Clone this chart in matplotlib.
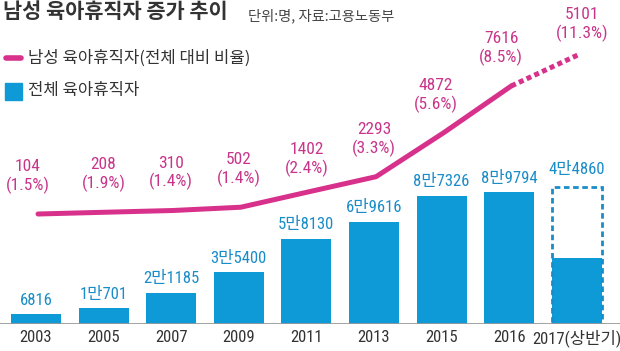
import numpy as np
import matplotlib
matplotlib.use("Agg")
import matplotlib.pyplot as plt
from matplotlib import font_manager
from matplotlib.patches import Rectangle

# data
years = ["2003", "2005", "2007", "2009", "2011", "2013", "2015", "2016", "2017(상반기)"]
total_leave = [6816, 10701, 21185, 35400, 58130, 69616, 87326, 89794, 44860]
total_labels = ["6816", "1만701", "2만1185", "3만5400", "5만8130", "6만9616", "8만7326", "8만9794", "4만4860"]
male_leave = [104, 208, 310, 502, 1402, 2293, 4872, 7616, 5101]
male_ratio = ["1.5%", "1.9%", "1.4%", "1.4%", "2.4%", "3.3%", "5.6%", "8.5%", "11.3%"]
male_2017_plot = 9500      # where the dotted line ends (annualised estimate)
total_2017_box = 93000     # dashed box height for 2017

BLUE = "#0e9ad6"
BLUE_TXT = "#1a8cc8"
PINK = "#d8318c"
PINK_TXT = "#c8358a"
DARK = "#333333"
KR = "Noto Sans CJK KR"

# try to find a narrow latin font for digits
names = {f.name for f in font_manager.fontManager.ttflist}
narrow = None
for cand in ["Liberation Sans Narrow", "DejaVu Sans Condensed", "Roboto Condensed",
             "Open Sans Condensed", "Noto Sans Condensed"]:
    if cand in names:
        narrow = cand
        break
if narrow:
    NUM = [narrow, KR]
    s_blue, s_pink, s_year = 12, 12.5, 12
else:
    NUM = [KR]
    s_blue, s_pink, s_year = 10, 10.5, 10.5

W, H = 620, 351
fig = plt.figure(figsize=(W / 100, H / 100), dpi=100)
base_px = 27
ax = fig.add_axes([0, base_px / H, 1, (H - base_px) / H])
ax.set_xlim(-36 / 67.6, (W - 36) / 67.6)
px_per_unit = 1.47 / 1000
ax.set_ylim(0, (H - base_px) / px_per_unit)
ax.axis("off")

x = np.arange(len(years))
bw = 50 / 67.6
ax.bar(x, total_leave, width=bw, color=BLUE, zorder=2)
ax.add_patch(Rectangle((x[-1] - bw / 2, 0), bw, total_2017_box, fill=False,
                       edgecolor=BLUE_TXT, lw=2, ls=(0, (2, 1.3)), zorder=3))
ax.axhline(0, color="#9a9a9a", lw=2, zorder=4)

tops = total_leave[:-1] + [total_2017_box]
for i in range(len(years)):
    ax.annotate(total_labels[i], (x[i], tops[i]), xytext=(0, 10 if i < 8 else 13),
                textcoords="offset points", ha="center", va="center",
                fontsize=s_blue, color=BLUE_TXT, family=NUM)
    ax.annotate(years[i], (x[i], 0), xytext=(0, -10), textcoords="offset points",
                ha="center", va="center", fontsize=s_year, color=DARK, family=NUM)

# line on its own scale
ax2 = ax.twinx()
ax2.set_ylim(104 - 110 / 0.01704, 104 + (H - base_px - 110) / 0.01704)
ax2.axis("off")
ax2.plot(x[:8] + 0.03, male_leave[:8], color=PINK, lw=3.6, solid_capstyle="round", zorder=5)
ax2.plot([x[7] + 0.03, x[8] + 0.05], [male_leave[7], male_2017_plot], color=PINK, lw=3.6,
         ls=(0, (1.0, 0.7)), zorder=5)

line_y = male_leave[:8] + [male_2017_plot]
dx = [-8, 0, 0, 0, 0, 0, -6, -8, 5]
dy = [27, 27, 27, 27, 23, 27, 27, 27, 21]
for i in range(len(years)):
    ax2.annotate(f"{male_leave[i]}\n({male_ratio[i]})", (x[i], line_y[i]),
                 xytext=(dx[i] * 0.72, dy[i]), textcoords="offset points",
                 ha="center", va="center", fontsize=s_pink, color=PINK_TXT,
                 family=NUM, linespacing=1.2)

# title and legend
fig.text(3 / W, 1 - 12 / H, "남성 육아휴직자 증가 추이", family=KR, fontsize=15,
         fontweight="bold", color=DARK, va="center", ha="left")
fig.text(248 / W, 1 - 16 / H, "단위:명, 자료:고용노동부", family=KR, fontsize=10.3,
         color="#444444", va="center", ha="left")
fig.add_artist(plt.Line2D([6 / W, 21 / W], [1 - 58 / H] * 2, color=PINK, lw=4,
                          solid_capstyle="round"))
fig.text(28 / W, 1 - 58 / H, "남성 육아휴직자(전체 대비 비율)", family=KR, fontsize=12,
         color=DARK, va="center", ha="left")
fig.add_artist(Rectangle((5 / W, 1 - 100 / H), 17 / W, 17 / H, color=BLUE,
                         transform=fig.transFigure))
fig.text(28 / W, 1 - 91 / H, "전체 육아휴직자", family=KR, fontsize=12,
         color=DARK, va="center", ha="left")

fig.savefig("out.png", dpi=100)
